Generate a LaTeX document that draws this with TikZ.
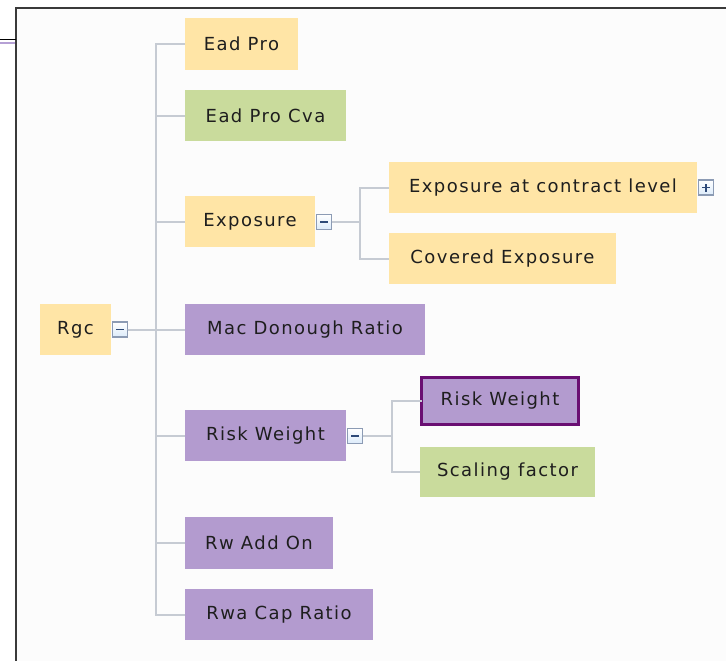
\documentclass[tikz,border=0pt]{standalone}
\usepackage{fontspec}
\newfontfamily\topicfont{DejaVu Sans}[LetterSpace=8]
\definecolor{cYellow}{HTML}{FFE5A6}
\definecolor{cGreen}{HTML}{C9DB9C}
\definecolor{cPurple}{HTML}{B39BCF}
\definecolor{cSelect}{HTML}{6A0E72}
\definecolor{cLine}{HTML}{C6CBD3}
\definecolor{cText}{HTML}{1E1E1E}
\definecolor{cBg}{HTML}{FCFCFC}
\definecolor{cFrame}{HTML}{3A3A3A}
\definecolor{cBtnEdge}{HTML}{8C9BB4}
\definecolor{cBtnFill}{HTML}{DCEBFA}
\definecolor{cBtnSign}{HTML}{2E4A78}
\definecolor{cTab}{HTML}{B5A0D5}
\tikzset{
  topic/.style={anchor=north west, inner sep=0pt, outer sep=0pt,
    font=\topicfont\fontsize{18}{21}\selectfont, text=cText},
  conn/.style={draw=cLine, line width=2pt},
  btn/.style={draw=cBtnEdge, line width=1.2pt, minimum size=15pt, inner sep=0pt,
    outer sep=0pt, top color=white, bottom color=cBtnFill},
  minus/.style={btn, path picture={\draw[cBtnSign, line width=1.6pt]
    ([xshift=-4pt]path picture bounding box.center) --
    ([xshift=4pt]path picture bounding box.center);}},
  plus/.style={btn, path picture={\draw[cBtnSign, line width=1.6pt]
    ([xshift=-4pt]path picture bounding box.center) --
    ([xshift=4pt]path picture bounding box.center)
    ([yshift=-4pt]path picture bounding box.center) --
    ([yshift=4pt]path picture bounding box.center);}},
}
\begin{document}
\begin{tikzpicture}[x=1pt,y=-1pt]
\useasboundingbox (0,0) rectangle (726,661);
% window background and frame
\fill[white] (0,0) rectangle (726,661);
\fill[cBg] (16,8) rectangle (726,661);
\draw[cFrame, line width=1.6pt] (16,661) -- (16,8) -- (726,8);
\draw[black, line width=1pt] (0,39.5) -- (16,39.5);
\draw[cTab, line width=1.6pt] (0,43) -- (15,43);

% root
\node[topic, fill=cYellow, minimum width=71pt, minimum height=51pt] (rgc) at (40,304) {Rgc};
\node[minus] (rgcbtn) at (120,329.5) {};

% first level
\node[topic, fill=cYellow, minimum width=113pt, minimum height=52pt] (eadpro) at (185,18) {Ead Pro};
\node[topic, fill=cGreen, minimum width=161pt, minimum height=51pt] (eadprocva) at (185,90) {Ead Pro Cva};
\node[topic, fill=cYellow, minimum width=130pt, minimum height=51pt] (exposure) at (185,196) {Exposure};
\node[minus] (expbtn) at (324,222) {};
\node[topic, fill=cPurple, minimum width=240pt, minimum height=51pt] (mac) at (185,304) {Mac Donough Ratio};
\node[topic, fill=cPurple, minimum width=161pt, minimum height=51pt] (rw) at (185,410) {Risk Weight};
\node[minus] (rwbtn) at (355,436) {};
\node[topic, fill=cPurple, minimum width=148pt, minimum height=52pt] (rwadd) at (185,517) {Rw Add On};
\node[topic, fill=cPurple, minimum width=188pt, minimum height=51pt] (rwacap) at (185,589) {Rwa Cap Ratio};

% second level under Exposure
\node[topic, fill=cYellow, minimum width=308pt, minimum height=51pt] (expcl) at (389,162) {Exposure at contract level};
\node[plus] (expclbtn) at (706,187.5) {};
\node[topic, fill=cYellow, minimum width=227pt, minimum height=51pt] (covexp) at (389,233) {Covered Exposure};

% second level under Risk Weight
\node[topic, fill=cPurple, draw=cSelect, line width=3pt, minimum width=157pt, minimum height=47pt] (rwsel) at (421.5,377.5) {Risk Weight};
\node[topic, fill=cGreen, minimum width=175pt, minimum height=50pt] (scaling) at (420,447) {Scaling factor};

% connectors from the root
\foreach \n in {eadpro,eadprocva,exposure,mac,rw,rwadd,rwacap}
  \draw[conn] (rgcbtn.east) -- ++(28.5,0) |- (\n.west);
% connectors from Exposure
\foreach \n in {expcl,covexp}
  \draw[conn] (expbtn.east) -- ++(28,0) |- (\n.west);
% connectors from Risk Weight
\foreach \n in {rwsel,scaling}
  \draw[conn] (rwbtn.east) -- ++(29,0) |- (\n.west);
\end{tikzpicture}
\end{document}
